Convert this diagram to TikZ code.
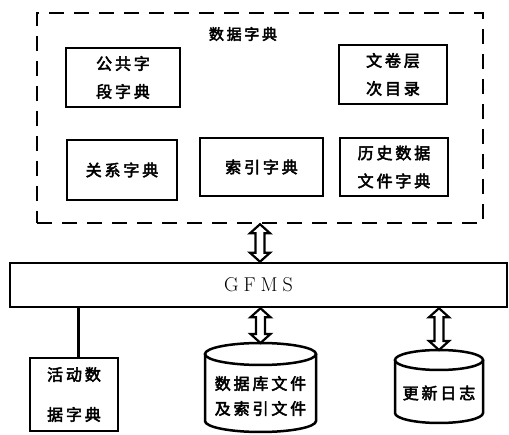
\documentclass[tikz,border=0pt]{standalone}
\usepackage{fontspec}
\usetikzlibrary{calc}
\newfontfamily\cjk[FakeBold=3,LetterSpace=18]{Noto Sans CJK SC}
\newcommand\dblarrow[2]{%
  \draw[arrowline] let \p1=(#1), \p2=(#2) in
    (\x1,\y1) -- (\x1+10pt,\y1-9pt) -- (\x1+4.5pt,\y1-9pt) -- (\x1+4.5pt,\y2+9pt)
    -- (\x1+10pt,\y2+9pt) -- (\x1,\y2) -- (\x1-10pt,\y2+9pt) -- (\x1-4.5pt,\y2+9pt)
    -- (\x1-4.5pt,\y1-9pt) -- (\x1-10pt,\y1-9pt) -- cycle;}
\tikzset{
  box/.style={draw, line width=2.7pt, inner sep=0pt, align=center,
    font=\cjk\fontsize{16}{28}\selectfont},
  dashbox/.style={draw, line width=2.5pt, dash pattern=on 15pt off 10pt, inner sep=0pt},
  title/.style={font=\cjk\fontsize{15}{18}\selectfont},
  bar/.style={draw, line width=2.5pt, inner sep=0pt, font=\fontsize{20}{22}\selectfont},
  cyltext/.style={inner sep=0pt, align=center, font=\cjk\fontsize{16}{25}\selectfont},
  cylline/.style={line width=2.5pt},
  arrowline/.style={line width=2.2pt, line join=miter},
  plainline/.style={line width=3pt}
}
\begin{document}
\begin{tikzpicture}[x=1pt,y=-1pt]
\useasboundingbox (0,0) rectangle (509,435);
% dashed data dictionary frame
\node[dashbox, minimum width=446pt, minimum height=210pt] (dd) at (260,118) {};
\node[title] (ddt) at (243,34) {数据字典};
\node[box, minimum width=114pt, minimum height=59pt] (ggzd) at (123,77.5) {公共字\\段字典};
\node[box, minimum width=108pt, minimum height=59pt] (wjcc) at (393,74.5) {文卷层\\次目录};
\node[box, minimum width=110pt, minimum height=60pt] (gxzd) at (122,170) {关系字典};
\node[box, minimum width=123pt, minimum height=58pt] (syzd) at (261.5,167) {索引字典};
\node[box, minimum width=108pt, minimum height=58pt] (lssj) at (394,167) {历史数据\\文件字典};
% GFMS bar
\node[bar, minimum width=497pt, minimum height=44pt] (gfms) at (258.5,285) {G\hspace{5pt}F\hspace{5pt}M\hspace{5pt}S};
% active data dictionary
\node[box, minimum width=88pt, minimum height=73pt, font=\cjk\fontsize{16}{40}\selectfont] (hdsj) at (74,394.5) {活动数\\据字典};
% cylinder: database files
\draw[cylline] (260.5,354) ellipse[x radius=55.5, y radius=11];
\draw[cylline] (205,354) -- (205,421) arc[start angle=180, end angle=0, x radius=55.5, y radius=11] -- (316,354);
\node[cyltext] (sjk) at (260.5,396) {数据库文件\\及索引文件};
\coordinate (sjktop) at (260.5,343);
% cylinder: update log
\draw[cylline] (439,360) ellipse[x radius=44, y radius=10];
\draw[cylline] (395,360) -- (395,413) arc[start angle=180, end angle=0, x radius=44, y radius=10] -- (483,360);
\node[cyltext] (gxrz) at (439,393) {更新日志};
\coordinate (gxrztop) at (439,350);
% connectors
\dblarrow{dd.south -| 260,0}{gfms.north -| 260,0}
\dblarrow{gfms.south -| sjktop}{sjktop}
\dblarrow{gfms.south -| gxrztop}{gxrztop}
\draw[plainline] ([xshift=4pt]hdsj.north |- gfms.south) -- ([xshift=4pt]hdsj.north);
\end{tikzpicture}
\end{document}
